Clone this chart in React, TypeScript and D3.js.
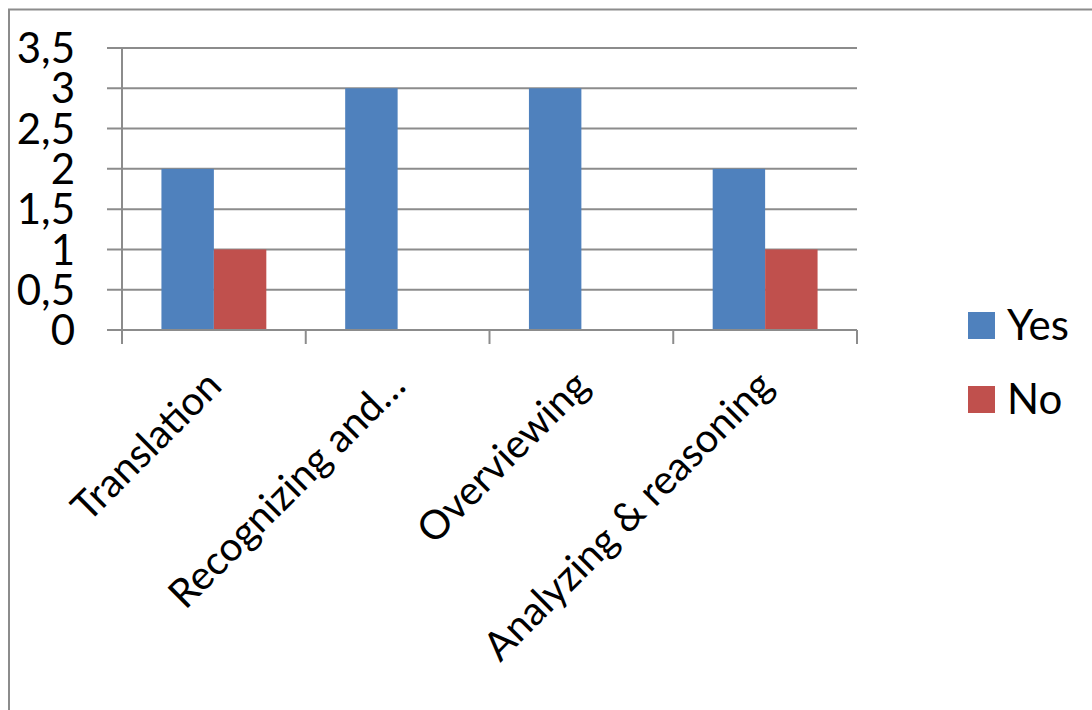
import React from "react";
import * as d3 from "d3";

const categories = ["Translation", "Recognizing and…", "Overviewing", "Analyzing & reasoning"];
const seriesNames = ["Yes", "No"];
const yesValues = [2, 3, 3, 2];
const noValues = [1, 0, 0, 1];
const yTicks = [0, 0.5, 1, 1.5, 2, 2.5, 3, 3.5];
const seriesColors = ["#4F81BD", "#C0504D"];

const W = 1092;
const H = 710;
const FONT = "Lato, 'Open Sans', sans-serif";

export default function App() {
  const plot = { left: 122, right: 857, top: 48, bottom: 330 };
  const x0 = d3.scaleBand<string>().domain(categories).range([plot.left, plot.right]).paddingInner(0).paddingOuter(0);
  const x1 = d3.scaleBand<string>().domain(seriesNames).range([0, x0.bandwidth()]).paddingInner(0).paddingOuter(0.752);
  const y = d3.scaleLinear().domain([0, 3.5]).range([plot.bottom, plot.top]);
  const fmt = (v: number) => String(v).replace(".", ",");
  const values = [yesValues, noValues];
  const grid = "#8c8c8c";

  return (
    <svg width={W} height={H} style={{ position: "absolute", left: 0, top: 0, background: "#fff" }} fontFamily={FONT}>
      <rect x={0} y={0} width={W} height={H} fill="#fff" />
      <rect x={9} y={9.5} width={W + 20} height={H + 20} fill="none" stroke={grid} strokeWidth={2} />
      {/* gridlines */}
      {yTicks.map((t) => (
        <line key={t} x1={plot.left - 15} x2={plot.right} y1={y(t)} y2={y(t)} stroke={grid} strokeWidth={2} />
      ))}
      {/* bars */}
      {values.map((vals, si) =>
        categories.map((c, ci) =>
          vals[ci] > 0 ? (
            <rect
              key={`${si}-${ci}`}
              x={(x0(c) as number) + (x1(seriesNames[si]) as number)}
              y={y(vals[ci])}
              width={x1.bandwidth()}
              height={y(0) - y(vals[ci])}
              fill={seriesColors[si]}
            />
          ) : null
        )
      )}
      {/* y axis */}
      <line x1={plot.left} x2={plot.left} y1={plot.top} y2={plot.bottom + 14} stroke={grid} strokeWidth={2} />
      {/* x axis ticks */}
      {[...categories.map((c) => x0(c) as number), plot.right].map((xv, i) => (
        <line key={i} x1={xv} x2={xv} y1={plot.bottom} y2={plot.bottom + 14} stroke={grid} strokeWidth={2} />
      ))}
      <line x1={plot.left - 15} x2={plot.right} y1={plot.bottom} y2={plot.bottom} stroke={grid} strokeWidth={2} />
      {/* y labels */}
      {yTicks.map((t) => (
        <text key={t} x={75} y={y(t)} dy="0.36em" textAnchor="end" fontSize={42} fill="#000">
          {fmt(t)}
        </text>
      ))}
      {/* category labels */}
      {categories.map((c) => {
        const cx = (x0(c) as number) + x0.bandwidth() / 2 + 10;
        const cy = 388;
        return (
          <text key={c} x={cx} y={cy} textAnchor="end" fontSize={40} fill="#000" transform={`rotate(-45 ${cx} ${cy})`}>
            {c}
          </text>
        );
      })}
      {/* legend */}
      {seriesNames.map((s, i) => (
        <g key={s}>
          <rect x={968} y={312 + i * 74} width={27} height={27} fill={seriesColors[i]} />
          <text x={1007} y={340 + i * 74} fontSize={42} fill="#000">
            {s}
          </text>
        </g>
      ))}
    </svg>
  );
}
